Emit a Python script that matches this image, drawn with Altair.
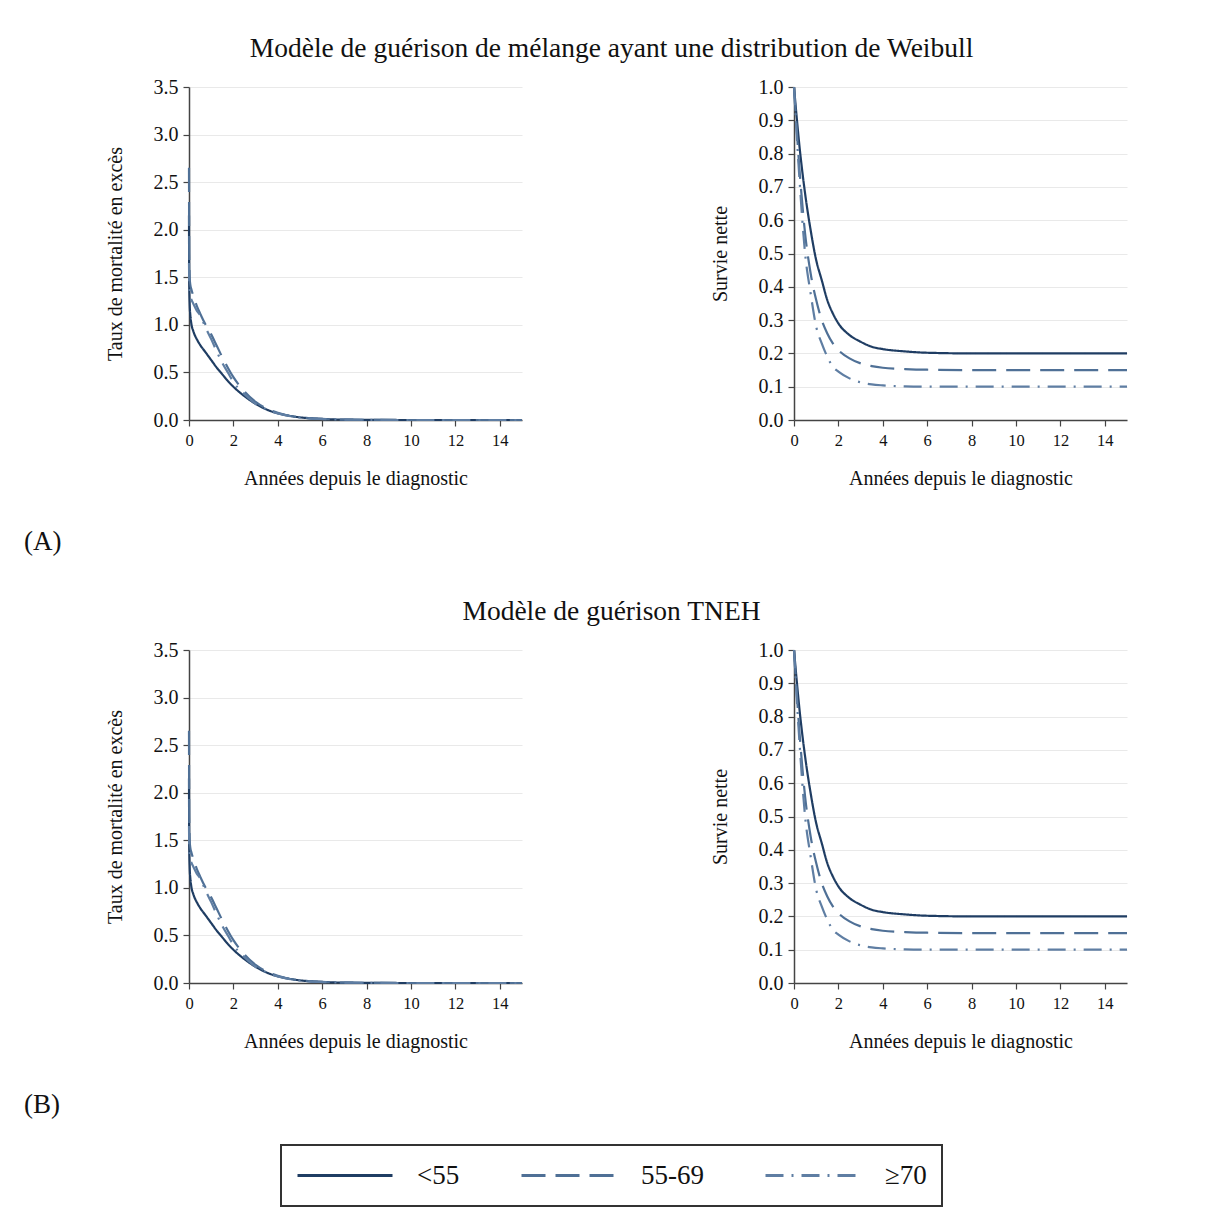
import altair as alt
import pandas as pd

FONT = "Liberation Serif"

groups = ["<55", "55-69", "≥70"]
line_colors = ["#1f3d63", "#4f7096", "#5f7ea3"]
dash_patterns = [[1, 0], [24, 10], [18, 8, 2, 8]]

# Excess mortality hazard (left panels)
years_h = [0, 0.01, 0.03, 0.06, 0.1, 0.2, 0.35, 0.5, 0.75, 1, 1.25, 1.5, 1.75,
           2, 2.5, 3, 3.5, 4, 4.5, 5, 6, 7, 8, 10, 12, 15]
haz_lt55 = [2.15, 1.45, 1.22, 1.10, 1.02, 0.93, 0.85, 0.79, 0.71, 0.63, 0.55, 0.48, 0.41,
            0.35, 0.25, 0.17, 0.11, 0.07, 0.045, 0.028, 0.011, 0.004, 0.002, 0.0, 0.0, 0.0]
haz_55_69 = [2.65, 1.75, 1.50, 1.42, 1.38, 1.30, 1.20, 1.12, 1.00, 0.90, 0.78, 0.66, 0.55,
             0.45, 0.30, 0.19, 0.12, 0.075, 0.045, 0.028, 0.011, 0.004, 0.002, 0.0, 0.0, 0.0]
haz_ge70 = [1.65, 1.45, 1.35, 1.30, 1.27, 1.22, 1.15, 1.10, 0.97, 0.85, 0.72, 0.60, 0.50,
            0.40, 0.27, 0.17, 0.11, 0.07, 0.043, 0.026, 0.010, 0.004, 0.002, 0.0, 0.0, 0.0]

# Net survival (right panels)
years_s = [0, 0.25, 0.5, 0.75, 1, 1.25, 1.5, 1.75, 2, 2.5, 3, 3.5, 4, 5, 6, 8, 10, 12, 15]
surv_lt55 = [1.0, 0.82, 0.68, 0.57, 0.48, 0.42, 0.36, 0.32, 0.29, 0.255, 0.235, 0.22,
             0.213, 0.206, 0.202, 0.200, 0.200, 0.200, 0.200]
surv_55_69 = [1.0, 0.75, 0.56, 0.44, 0.36, 0.30, 0.26, 0.23, 0.21, 0.185, 0.17, 0.162,
              0.157, 0.153, 0.151, 0.150, 0.150, 0.150, 0.150]
surv_ge70 = [1.0, 0.72, 0.50, 0.38, 0.28, 0.23, 0.19, 0.16, 0.145, 0.125, 0.113, 0.107,
             0.104, 0.101, 0.100, 0.100, 0.100, 0.100, 0.100]

x_ticks = [0, 2, 4, 6, 8, 10, 12, 14]
haz_ticks = [0, 0.5, 1.0, 1.5, 2.0, 2.5, 3.0, 3.5]
surv_ticks = [0, 0.1, 0.2, 0.3, 0.4, 0.5, 0.6, 0.7, 0.8, 0.9, 1.0]

title_a = "Modèle de guérison de mélange ayant une distribution de Weibull"
title_b = "Modèle de guérison TNEH"
x_title = "Années depuis le diagnostic"
haz_title = "Taux de mortalité en excès"
surv_title = "Survie nette"


def long_df(years, series):
    rows = []
    for g, vals in zip(groups, series):
        for t, v in zip(years, vals):
            rows.append({"t": t, "v": v, "groupe": g})
    return pd.DataFrame(rows)


haz_df = long_df(years_h, [haz_lt55, haz_55_69, haz_ge70])
surv_df = long_df(years_s, [surv_lt55, surv_55_69, surv_ge70])

W = 333
H = 333

legend = alt.Legend(title=None, orient="none", legendX=92, legendY=1058,
                    direction="horizontal", clipHeight=31)


def panel(df, ytitle, ymax, yticks, title):
    return alt.Chart(df).mark_line(strokeWidth=2.2, interpolate="monotone").encode(
        x=alt.X("t:Q", scale=alt.Scale(domain=[0, 15], nice=False, zero=False),
                axis=alt.Axis(values=x_ticks, grid=False, title=x_title,
                              titleY=58, titleBaseline="middle", labelFontSize=16.5,
                              labelPadding=6, tickSize=6, titleFontSize=20,
                              labelFlush=False)),
        y=alt.Y("v:Q", scale=alt.Scale(domain=[0, ymax], nice=False),
                axis=alt.Axis(values=yticks, format=".1f", grid=True, title=ytitle,
                              titleX=-74, titleY=H / 2, titleAlign="center",
                              titleBaseline="middle", labelFontSize=20,
                              labelPadding=5, tickSize=6, titleFontSize=20,
                              labelFlush=False)),
        color=alt.Color("groupe:N", scale=alt.Scale(domain=groups, range=line_colors),
                        legend=legend),
        strokeDash=alt.StrokeDash("groupe:N",
                                  scale=alt.Scale(domain=groups, range=dash_patterns),
                                  legend=legend),
    ).properties(width=W, height=H, title=title)


def row_title(text):
    return alt.TitleParams(text, anchor="middle", frame="group", dx=256, offset=15,
                           fontSize=27.5, font=FONT, fontWeight="normal", color="#111111")


def tag_title(text):
    return alt.TitleParams(text, orient="bottom", anchor="start", frame="group",
                           dx=-770, offset=41, fontSize=27, font=FONT,
                           fontWeight="normal", color="#111111")


tl = panel(haz_df, haz_title, 3.5, haz_ticks, row_title(title_a))
tr = panel(surv_df, surv_title, 1.0, surv_ticks, tag_title("(A)"))
bl = panel(haz_df, haz_title, 3.5, haz_ticks, row_title(title_b))
br = panel(surv_df, surv_title, 1.0, surv_ticks, tag_title("(B)"))

chart = alt.concat(
    tl, tr, bl, br, columns=2, spacing={"row": 230, "column": 272}, bounds="flush"
).resolve_scale(
    color="shared", strokeDash="shared"
).resolve_legend(
    color="shared", strokeDash="shared"
).properties(
    padding={"left": 16, "top": 26, "right": 5, "bottom": 5}
).configure_view(
    stroke=None
).configure_axis(
    labelFont=FONT, titleFont=FONT, labelColor="#111111", titleColor="#111111",
    titleFontWeight="normal", domainColor="#444444", tickColor="#444444",
    domainWidth=1.5, tickWidth=1.2, gridColor="#e9e9e9", gridWidth=1.2,
).configure_legend(
    symbolType="stroke", symbolSize=9025, symbolStrokeWidth=3,
    labelFont=FONT, labelFontSize=27, labelColor="#111111", labelOffset=23,
    columnPadding=60, padding=15, strokeColor="#333333", strokeWidth=2,
)

chart.save("out.html", embed_options={"renderer": "svg", "actions": False})
